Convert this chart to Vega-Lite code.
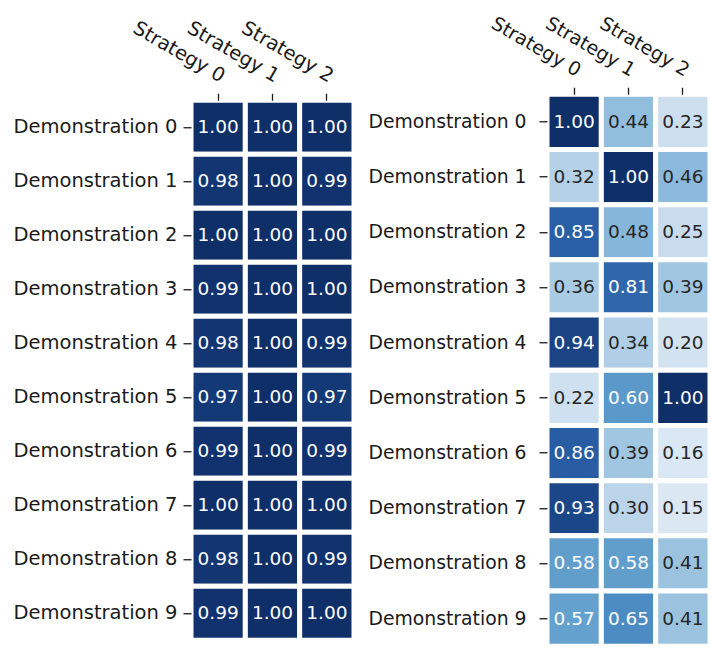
{
  "$schema": "https://vega.github.io/schema/vega-lite/v6.json",
  "padding": {"left": 12, "top": 13, "right": 0, "bottom": 0},
  "config": {"view": {"stroke": null}, "font": "DejaVu Sans", "concat": {"spacing": 11}},
  "center": true,
  "datasets": {
    "left": [
      {"demo": "Demonstration 0", "strategy": "Strategy 0", "value": 1.00},
      {"demo": "Demonstration 0", "strategy": "Strategy 1", "value": 1.00},
      {"demo": "Demonstration 0", "strategy": "Strategy 2", "value": 1.00},
      {"demo": "Demonstration 1", "strategy": "Strategy 0", "value": 0.98},
      {"demo": "Demonstration 1", "strategy": "Strategy 1", "value": 1.00},
      {"demo": "Demonstration 1", "strategy": "Strategy 2", "value": 0.99},
      {"demo": "Demonstration 2", "strategy": "Strategy 0", "value": 1.00},
      {"demo": "Demonstration 2", "strategy": "Strategy 1", "value": 1.00},
      {"demo": "Demonstration 2", "strategy": "Strategy 2", "value": 1.00},
      {"demo": "Demonstration 3", "strategy": "Strategy 0", "value": 0.99},
      {"demo": "Demonstration 3", "strategy": "Strategy 1", "value": 1.00},
      {"demo": "Demonstration 3", "strategy": "Strategy 2", "value": 1.00},
      {"demo": "Demonstration 4", "strategy": "Strategy 0", "value": 0.98},
      {"demo": "Demonstration 4", "strategy": "Strategy 1", "value": 1.00},
      {"demo": "Demonstration 4", "strategy": "Strategy 2", "value": 0.99},
      {"demo": "Demonstration 5", "strategy": "Strategy 0", "value": 0.97},
      {"demo": "Demonstration 5", "strategy": "Strategy 1", "value": 1.00},
      {"demo": "Demonstration 5", "strategy": "Strategy 2", "value": 0.97},
      {"demo": "Demonstration 6", "strategy": "Strategy 0", "value": 0.99},
      {"demo": "Demonstration 6", "strategy": "Strategy 1", "value": 1.00},
      {"demo": "Demonstration 6", "strategy": "Strategy 2", "value": 0.99},
      {"demo": "Demonstration 7", "strategy": "Strategy 0", "value": 1.00},
      {"demo": "Demonstration 7", "strategy": "Strategy 1", "value": 1.00},
      {"demo": "Demonstration 7", "strategy": "Strategy 2", "value": 1.00},
      {"demo": "Demonstration 8", "strategy": "Strategy 0", "value": 0.98},
      {"demo": "Demonstration 8", "strategy": "Strategy 1", "value": 1.00},
      {"demo": "Demonstration 8", "strategy": "Strategy 2", "value": 0.99},
      {"demo": "Demonstration 9", "strategy": "Strategy 0", "value": 0.99},
      {"demo": "Demonstration 9", "strategy": "Strategy 1", "value": 1.00},
      {"demo": "Demonstration 9", "strategy": "Strategy 2", "value": 1.00}
    ],
    "right": [
      {"demo": "Demonstration 0", "strategy": "Strategy 0", "value": 1.00},
      {"demo": "Demonstration 0", "strategy": "Strategy 1", "value": 0.44},
      {"demo": "Demonstration 0", "strategy": "Strategy 2", "value": 0.23},
      {"demo": "Demonstration 1", "strategy": "Strategy 0", "value": 0.32},
      {"demo": "Demonstration 1", "strategy": "Strategy 1", "value": 1.00},
      {"demo": "Demonstration 1", "strategy": "Strategy 2", "value": 0.46},
      {"demo": "Demonstration 2", "strategy": "Strategy 0", "value": 0.85},
      {"demo": "Demonstration 2", "strategy": "Strategy 1", "value": 0.48},
      {"demo": "Demonstration 2", "strategy": "Strategy 2", "value": 0.25},
      {"demo": "Demonstration 3", "strategy": "Strategy 0", "value": 0.36},
      {"demo": "Demonstration 3", "strategy": "Strategy 1", "value": 0.81},
      {"demo": "Demonstration 3", "strategy": "Strategy 2", "value": 0.39},
      {"demo": "Demonstration 4", "strategy": "Strategy 0", "value": 0.94},
      {"demo": "Demonstration 4", "strategy": "Strategy 1", "value": 0.34},
      {"demo": "Demonstration 4", "strategy": "Strategy 2", "value": 0.20},
      {"demo": "Demonstration 5", "strategy": "Strategy 0", "value": 0.22},
      {"demo": "Demonstration 5", "strategy": "Strategy 1", "value": 0.60},
      {"demo": "Demonstration 5", "strategy": "Strategy 2", "value": 1.00},
      {"demo": "Demonstration 6", "strategy": "Strategy 0", "value": 0.86},
      {"demo": "Demonstration 6", "strategy": "Strategy 1", "value": 0.39},
      {"demo": "Demonstration 6", "strategy": "Strategy 2", "value": 0.16},
      {"demo": "Demonstration 7", "strategy": "Strategy 0", "value": 0.93},
      {"demo": "Demonstration 7", "strategy": "Strategy 1", "value": 0.30},
      {"demo": "Demonstration 7", "strategy": "Strategy 2", "value": 0.15},
      {"demo": "Demonstration 8", "strategy": "Strategy 0", "value": 0.58},
      {"demo": "Demonstration 8", "strategy": "Strategy 1", "value": 0.58},
      {"demo": "Demonstration 8", "strategy": "Strategy 2", "value": 0.41},
      {"demo": "Demonstration 9", "strategy": "Strategy 0", "value": 0.57},
      {"demo": "Demonstration 9", "strategy": "Strategy 1", "value": 0.65},
      {"demo": "Demonstration 9", "strategy": "Strategy 2", "value": 0.41}
    ]
  },
  "hconcat": [
    {
      "data": {"name": "left"},
      "width": 163,
      "height": 540,
      "encoding": {
        "x": {"field": "strategy", "type": "nominal", "sort": ["Strategy 0", "Strategy 1", "Strategy 2"],
          "scale": {"paddingInner": 0, "paddingOuter": 0},
          "axis": {"orient": "top", "title": null, "domain": false, "labelAngle": 30, "labelAlign": "right", "labelBaseline": "middle",
            "labelFontSize": 19.5, "labelColor": "#1a1a1a", "labelOffset": 5, "labelPadding": 16, "tickSize": 7, "tickColor": "#1a1a1a", "tickWidth": 1.3}},
        "y": {"field": "demo", "type": "nominal",
          "sort": ["Demonstration 0", "Demonstration 1", "Demonstration 2", "Demonstration 3", "Demonstration 4", "Demonstration 5", "Demonstration 6", "Demonstration 7", "Demonstration 8", "Demonstration 9"],
          "scale": {"paddingInner": 0, "paddingOuter": 0},
          "axis": {"title": null, "domain": false, "labelFontSize": 19.5, "labelColor": "#1a1a1a", "labelPadding": 6, "tickSize": 8, "tickColor": "#1a1a1a", "tickWidth": 1.3}}
      },
      "layer": [
        {"mark": {"type": "rect", "stroke": "white", "strokeWidth": 5},
          "encoding": {"color": {"field": "value", "type": "quantitative", "legend": null,
            "scale": {"domain": [0, 0.125, 0.25, 0.375, 0.5, 0.625, 0.75, 0.875, 1], "range": ["#f7fbff", "#e0ebf6", "#c9dcee", "#a6c9e3", "#80b3d8", "#5092c6", "#3a73b4", "#255aa2", "#0f2f69"], "interpolate": "rgb"}}}},
        {"mark": {"type": "text", "fontSize": 18.5},
          "encoding": {"text": {"field": "value", "type": "quantitative", "format": ".2f"},
            "color": {"condition": {"test": "datum.value > 0.5", "value": "#ffffff"}, "value": "#262626"}}}
      ]
    },
    {
      "data": {"name": "right"},
      "width": 163,
      "height": 552,
      "encoding": {
        "x": {"field": "strategy", "type": "nominal", "sort": ["Strategy 0", "Strategy 1", "Strategy 2"],
          "scale": {"paddingInner": 0, "paddingOuter": 0},
          "axis": {"orient": "top", "title": null, "domain": false, "labelAngle": 30, "labelAlign": "right", "labelBaseline": "middle",
            "labelFontSize": 19, "labelColor": "#1a1a1a", "labelOffset": 5, "labelPadding": 16, "tickSize": 7, "tickColor": "#1a1a1a", "tickWidth": 1.3}},
        "y": {"field": "demo", "type": "nominal",
          "sort": ["Demonstration 0", "Demonstration 1", "Demonstration 2", "Demonstration 3", "Demonstration 4", "Demonstration 5", "Demonstration 6", "Demonstration 7", "Demonstration 8", "Demonstration 9"],
          "scale": {"paddingInner": 0, "paddingOuter": 0},
          "axis": {"title": null, "domain": false, "labelFontSize": 18.8, "labelColor": "#1a1a1a", "labelPadding": 13, "tickSize": 8, "tickColor": "#1a1a1a", "tickWidth": 1.3}}
      },
      "layer": [
        {"mark": {"type": "rect", "stroke": "white", "strokeWidth": 5},
          "encoding": {"color": {"field": "value", "type": "quantitative", "legend": null,
            "scale": {"domain": [0, 0.125, 0.25, 0.375, 0.5, 0.625, 0.75, 0.875, 1], "range": ["#f7fbff", "#e0ebf6", "#c9dcee", "#a6c9e3", "#80b3d8", "#5092c6", "#3a73b4", "#255aa2", "#0f2f69"], "interpolate": "rgb"}}}},
        {"mark": {"type": "text", "fontSize": 18.5},
          "encoding": {"text": {"field": "value", "type": "quantitative", "format": ".2f"},
            "color": {"condition": {"test": "datum.value > 0.5", "value": "#ffffff"}, "value": "#262626"}}}
      ]
    }
  ]
}
